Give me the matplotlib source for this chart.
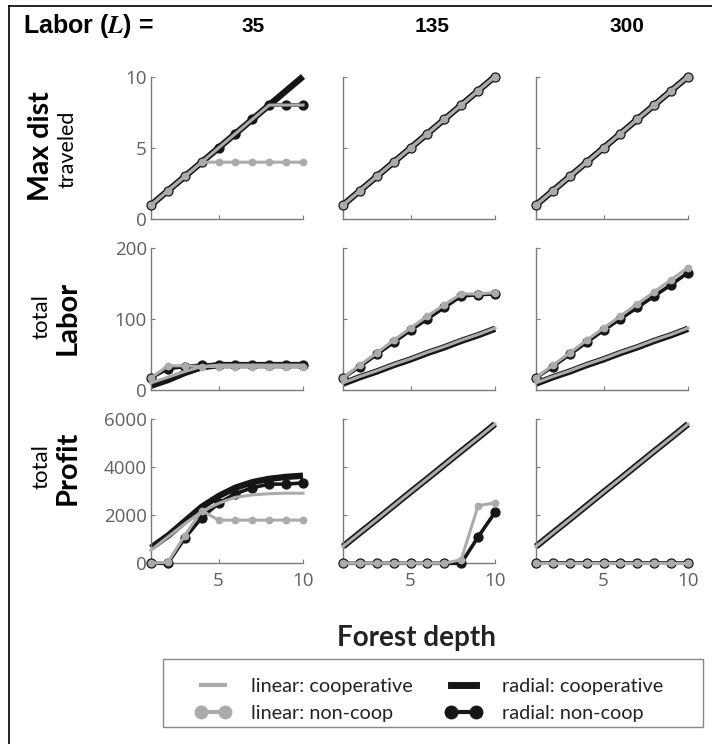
import matplotlib.pyplot as plt
from matplotlib.lines import Line2D
from matplotlib.patches import Rectangle

plt.rcParams['mathtext.fontset'] = 'stix'

# forest depth (x axis) and the three labor levels (columns)
depth = [1, 2, 3, 4, 5, 6, 7, 8, 9, 10]
labor_levels = [35, 135, 300]

# row 1: max distance traveled, one list per labor level
dist_lin_coop = [[1, 2, 3, 4, 5, 6, 7, 8, 8, 8],
                 [1, 2, 3, 4, 5, 6, 7, 8, 9, 10],
                 [1, 2, 3, 4, 5, 6, 7, 8, 9, 10]]
dist_rad_coop = [[1, 2, 3, 4, 5, 6, 7, 8, 9, 10],
                 [1, 2, 3, 4, 5, 6, 7, 8, 9, 10],
                 [1, 2, 3, 4, 5, 6, 7, 8, 9, 10]]
dist_lin_nonc = [[1, 2, 3, 4, 4, 4, 4, 4, 4, 4],
                 [1, 2, 3, 4, 5, 6, 7, 8, 9, 10],
                 [1, 2, 3, 4, 5, 6, 7, 8, 9, 10]]
dist_rad_nonc = [[1, 2, 3, 4, 5, 6, 7, 8, 8, 8],
                 [1, 2, 3, 4, 5, 6, 7, 8, 9, 10],
                 [1, 2, 3, 4, 5, 6, 7, 8, 9, 10]]

# row 2: total labor
labor_lin_coop = [[10, 18, 26, 33, 35, 35, 35, 35, 35, 35],
                  [10, 19, 27, 36, 44, 53, 61, 70, 78, 87],
                  [10, 19, 27, 36, 44, 53, 61, 70, 78, 87]]
labor_rad_coop = [[6, 14, 24, 32, 35, 35, 35, 35, 35, 35],
                  [9, 18, 26, 35, 43, 52, 60, 69, 77, 86],
                  [9, 18, 26, 35, 43, 52, 60, 69, 77, 86]]
labor_lin_nonc = [[17, 34, 34, 33, 33, 33, 33, 33, 33, 33],
                  [17, 35, 52, 70, 87, 104, 120, 135, 135, 137],
                  [17, 35, 52, 70, 87, 104, 121, 138, 155, 172]]
labor_rad_nonc = [[17, 30, 33, 35, 35, 35, 35, 35, 35, 35],
                  [17, 33, 50, 67, 84, 100, 116, 132, 134, 135],
                  [17, 33, 50, 67, 84, 100, 116, 132, 148, 165]]

# row 3: total profit
profit_lin_coop = [[550, 1100, 1650, 2150, 2500, 2750, 2850, 2900, 2920, 2920],
                   [700, 1270, 1830, 2400, 2970, 3530, 4100, 4670, 5230, 5800],
                   [700, 1270, 1830, 2400, 2970, 3530, 4100, 4670, 5230, 5800]]
profit_rad_coop = [[650, 1150, 1750, 2350, 2800, 3150, 3380, 3520, 3600, 3650],
                   [700, 1270, 1830, 2400, 2970, 3530, 4100, 4670, 5230, 5800],
                   [700, 1270, 1830, 2400, 2970, 3530, 4100, 4670, 5230, 5800]]
profit_lin_nonc = [[0, 50, 1150, 2200, 1800, 1800, 1800, 1800, 1800, 1800],
                   [0, 0, 0, 0, 0, 0, 0, 150, 2400, 2520],
                   [0, 0, 0, 0, 0, 0, 0, 0, 0, 0]]
profit_rad_nonc = [[0, 0, 1050, 1900, 2500, 2900, 3150, 3300, 3300, 3350],
                   [0, 0, 0, 0, 0, 0, 0, 0, 1100, 2120],
                   [0, 0, 0, 0, 0, 0, 0, 0, 0, 0]]

rows = [
    (dist_lin_coop, dist_rad_coop, dist_lin_nonc, dist_rad_nonc),
    (labor_lin_coop, labor_rad_coop, labor_lin_nonc, labor_rad_nonc),
    (profit_lin_coop, profit_rad_coop, profit_lin_nonc, profit_rad_nonc),
]
row_yticks = [[0, 5, 10], [0, 100, 200], [0, 2000, 4000, 6000]]

GREY = '#ababab'
BLACK = '#161616'
AXC = '#7a7a7a'
TXC = '#606060'

W, H = 712, 744
fig = plt.figure(figsize=(W / 100, H / 100), dpi=100)


def px(x, y):
    return x / W, 1 - y / H


col_left = [151, 343, 536]
col_width = 152
row_top = [76.5, 247.7, 419.3]
row_bot = [219.3, 390.0, 563.3]

for r in range(3):
    lin_c, rad_c, lin_n, rad_n = rows[r]
    for c in range(3):
        l, b = px(col_left[c], row_bot[r])
        ax = fig.add_axes([l, b, col_width / W, (row_bot[r] - row_top[r]) / H])
        ax.plot(depth, rad_c[c], color=BLACK, lw=4.6, solid_capstyle='butt', clip_on=False, zorder=2)
        ax.plot(depth, rad_n[c], color=BLACK, lw=2.6, marker='o', ms=6.4, clip_on=False, zorder=3)
        ax.plot(depth, lin_c[c], color=GREY, lw=2.2, clip_on=False, zorder=4)
        ax.plot(depth, lin_n[c], color=GREY, lw=2.2, marker='o', ms=4.6, clip_on=False, zorder=5)

        yt = row_yticks[r]
        ax.set_xlim(1, 10)
        ax.set_ylim(0, yt[-1])
        for s in ['top', 'right']:
            ax.spines[s].set_visible(False)
        for s in ['left', 'bottom']:
            ax.spines[s].set_color(AXC)
            ax.spines[s].set_linewidth(1.0)
        ax.set_xticks([5, 10])
        ax.set_yticks(yt)
        ax.tick_params(direction='in', length=3, width=0.8, color=AXC,
                       labelcolor=TXC, labelsize=13.5, pad=3)
        ax.tick_params(axis='x', pad=6)
        if c == 0:
            ax.set_yticklabels([str(v) for v in yt], family='Open Sans')
        else:
            ax.set_yticklabels([])
        if r == 2:
            ax.set_xticklabels(['5', '10'], family='Open Sans')
        else:
            ax.set_xticklabels([])

# column headers
fig.text(*px(23, 26), r"Labor ($\mathbfit{L}$) =", fontsize=18, fontweight='bold',
         family='Liberation Sans', ha='left', va='center')
for x, lab in zip([253, 432, 627], labor_levels):
    fig.text(*px(x, 26), str(lab), fontsize=15, fontweight='bold',
             family='Liberation Sans', ha='center', va='center')

# row labels
fig.text(*px(41, 146), "Max dist", rotation=90, fontsize=20.5, fontweight='bold',
         family='Lato', ha='center', va='center')
fig.text(*px(68, 149), "traveled", rotation=90, fontsize=15.5,
         family='Lato', ha='center', va='center')
fig.text(*px(41, 317), "total", rotation=90, fontsize=16,
         family='Lato', ha='center', va='center')
fig.text(*px(68, 318), "Labor", rotation=90, fontsize=21, fontweight='bold',
         family='Lato', ha='center', va='center')
fig.text(*px(41, 467), "total", rotation=90, fontsize=16,
         family='Lato', ha='center', va='center')
fig.text(*px(68, 468), "Profit", rotation=90, fontsize=21, fontweight='bold',
         family='Lato', ha='center', va='center')

fig.text(*px(416, 638), "Forest depth", fontsize=20, fontweight='bold',
         family='Lato', ha='center', va='center', color='#222222')

# legend box drawn separately so its padding can differ per side
fig.add_artist(Rectangle(px(163, 727), (703 - 163) / W, (727 - 659) / H,
                         transform=fig.transFigure, fill=False,
                         edgecolor='#888888', lw=1.0))
handles = [
    Line2D([], [], color=GREY, lw=3),
    Line2D([], [], color=GREY, lw=3, marker='o', ms=9),
    Line2D([], [], color=BLACK, lw=5),
    Line2D([], [], color=BLACK, lw=3, marker='o', ms=9),
]
labels = ['linear: cooperative', 'linear: non-coop', 'radial: cooperative', 'radial: non-coop']
leg = fig.legend(handles, labels, ncol=2, loc='center', bbox_to_anchor=px(429, 700),
                 frameon=False, prop={'family': 'Lato', 'size': 14.3},
                 handlelength=1.85, handletextpad=1.0, columnspacing=1.63,
                 borderpad=0, labelspacing=0.5, borderaxespad=0, numpoints=2)
for t in leg.get_texts():
    t.set_color('#222222')

# figure border (left and top only)
fig.add_artist(Line2D([9 / W, 9 / W], [0, 1 - 6 / H], color='black', lw=1.2))
fig.add_artist(Line2D([9 / W, 1], [1 - 6 / H, 1 - 6 / H], color='black', lw=1.2))

fig.savefig('out.png', dpi=100)
